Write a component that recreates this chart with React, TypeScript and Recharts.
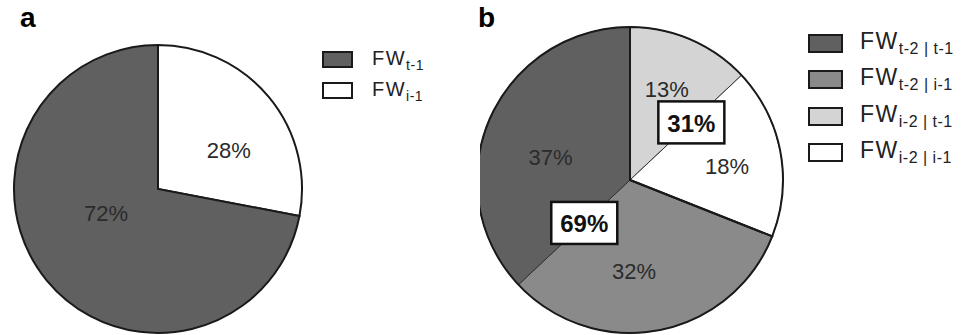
import { PieChart, Pie, Cell, Legend } from 'recharts';

// panel a: drawn clockwise from 12 o'clock
const subsA = ['i-1', 't-1'];
const valuesA = [28, 72];
const legendOrderA = [1, 0];

// panel b: inner split, clockwise from 12 o'clock
const subsB = ['i-2 | t-1', 'i-2 | i-1', 't-2 | i-1', 't-2 | t-1'];
const valuesB = [13, 18, 32, 37];
const legendOrderB = [3, 2, 0, 1];

// panel b: grouped totals (boxed labels)
const groupsB = ['i-2', 't-2'];
const groupValuesB = [31, 69];
const groupSizesB = [2, 2];

const colorsA = ['#ffffff', '#606060'];
const colorsB = ['#d4d4d4', '#ffffff', '#8a8a8a', '#606060'];

// label nudges: [angle shift in degrees, radius fraction]
const nudgeA = [[-11, 0.56], [-14, 0.4]];
const nudgeB = [[1.3, 0.64], [-3, 0.64], [-8.3, 0.6], [7.4, 0.54]];
const boxRadiusB = [0.55, 0.41];

const RAD = Math.PI / 180;
const FONT = '"Liberation Sans", Arial, sans-serif';

const polar = (cx: number, cy: number, r: number, a: number) => ({
  x: cx + r * Math.cos(-a * RAD),
  y: cy + r * Math.sin(-a * RAD),
});

const makeLabel = (nudge: number[][], size: number) => (props: any) => {
  const { cx, cy, midAngle, outerRadius, index, value } = props;
  const [da, rf] = nudge[index];
  const p = polar(cx, cy, outerRadius * rf, midAngle + da);
  return (
    <text x={p.x} y={p.y} fill="#2b2b2b" fontSize={size} fontFamily={FONT}
      textAnchor="middle" dominantBaseline="central">
      {value}%
    </text>
  );
};

const boxLabel = (props: any) => {
  const { cx, cy, startAngle, endAngle, outerRadius, index, value } = props;
  // box sits on the line between the two sub-slices of the group
  let first = 0;
  for (let i = 0; i < index; i++) first += groupSizesB[i];
  const frac = valuesB[first] / value;
  const a = startAngle - frac * (startAngle - endAngle);
  const p = polar(cx, cy, outerRadius * boxRadiusB[index], a);
  const w = 66, h = 42;
  return (
    <g>
      <rect x={p.x - w / 2} y={p.y - h / 2} width={w} height={h} fill="#fff" stroke="#111" strokeWidth={2.5} />
      <text x={p.x} y={p.y + 1} fill="#111" fontSize={24} fontWeight="bold" fontFamily={FONT}
        textAnchor="middle" dominantBaseline="central">
        {value}%
      </text>
    </g>
  );
};

const LegendBox = ({ subs, colors, order, box, font, sub, gap }: any) => (
  <div style={{ fontFamily: FONT, color: '#222' }}>
    {order.map((k: number) => (
      <div key={subs[k]} style={{ display: 'flex', alignItems: 'center', height: gap }}>
        <div style={{ width: box[0], height: box[1], boxSizing: 'border-box', border: '2.5px solid #1a1a1a', background: colors[k], marginRight: box[2] }} />
        <span style={{ fontSize: font, letterSpacing: 1.5, lineHeight: 1 }}>
          FW<sub style={{ fontSize: sub, letterSpacing: 0.5, verticalAlign: -5 }}>{subs[k]}</sub>
        </span>
      </div>
    ))}
  </div>
);

const dataA = subsA.map((s, i) => ({ name: 'FW' + s, value: valuesA[i] }));
const dataB = subsB.map((s, i) => ({ name: 'FW' + s, value: valuesB[i] }));
const dataG = groupsB.map((s, i) => ({ name: s, value: groupValuesB[i] }));

export default function App() {
  return (
    <div style={{ position: 'absolute', left: 0, top: 0, width: 976, height: 335, background: '#fff', overflow: 'hidden' }}>
      <div style={{ position: 'absolute', left: 20, top: 2, fontFamily: FONT, fontWeight: 'bold', fontSize: 28 }}>a</div>
      <div style={{ position: 'absolute', left: 478, top: 2, fontFamily: FONT, fontWeight: 'bold', fontSize: 28 }}>b</div>

      <div style={{ position: 'absolute', left: 0, top: 0 }}>
        <PieChart width={480} height={335} margin={{ top: 0, right: 0, bottom: 0, left: 0 }}>
          <Pie data={dataA} dataKey="value" cx={158} cy={189} outerRadius={144} startAngle={90} endAngle={-270}
            stroke="#1a1a1a" strokeWidth={2} label={makeLabel(nudgeA, 22)} labelLine={false} isAnimationActive={false}>
            {dataA.map((d, i) => <Cell key={d.name} fill={colorsA[i]} />)}
          </Pie>
          <Legend layout="vertical" align="right" verticalAlign="top"
            wrapperStyle={{ left: 322, top: 44, width: 150 }}
            content={() => (
              <LegendBox subs={subsA} colors={colorsA} order={legendOrderA}
                box={[31, 17, 19]} font={20} sub={14} gap={31} />
            )} />
        </PieChart>
      </div>

      <div style={{ position: 'absolute', left: 480, top: 0 }}>
        <PieChart width={496} height={335} margin={{ top: 0, right: 0, bottom: 0, left: 0 }}>
          <Pie data={dataB} dataKey="value" cx={150} cy={180} outerRadius={153} startAngle={90} endAngle={-270}
            stroke="#333" strokeWidth={1} label={makeLabel(nudgeB, 22)} labelLine={false} isAnimationActive={false}>
            {dataB.map((d, i) => <Cell key={d.name} fill={colorsB[i]} />)}
          </Pie>
          <Pie data={dataG} dataKey="value" cx={150} cy={180} outerRadius={153} startAngle={90} endAngle={-270}
            stroke="#1a1a1a" strokeWidth={2} fill="none" label={boxLabel} labelLine={false} isAnimationActive={false}>
            {dataG.map((d) => <Cell key={d.name} fill="none" />)}
          </Pie>
          <Legend layout="vertical" align="right" verticalAlign="top"
            wrapperStyle={{ left: 328, top: 25, width: 168 }}
            content={() => (
              <LegendBox subs={subsB} colors={colorsB} order={legendOrderB}
                box={[35, 19, 17]} font={23} sub={16} gap={36.5} />
            )} />
        </PieChart>
      </div>
    </div>
  );
}
